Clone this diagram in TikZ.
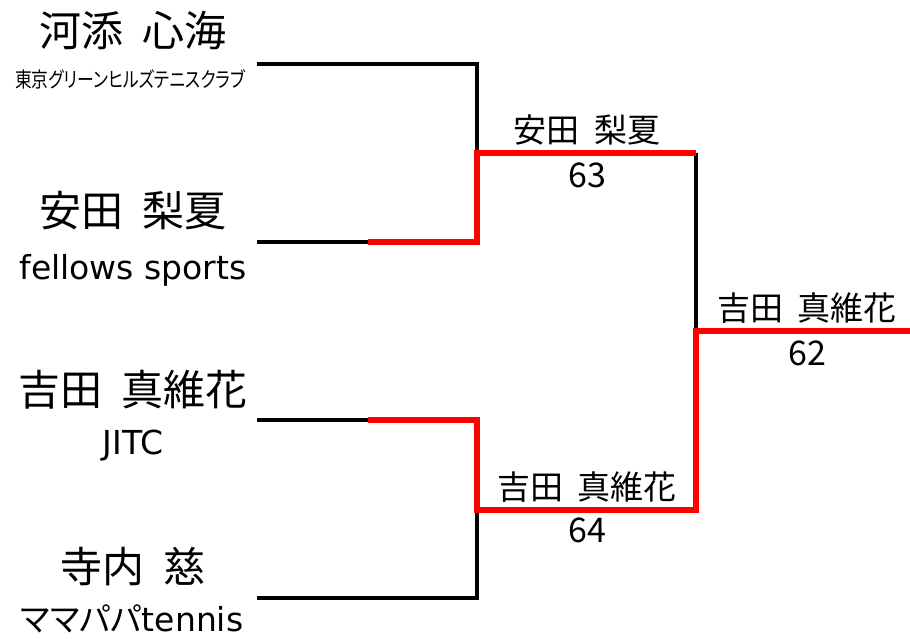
\documentclass[tikz,border=0pt]{standalone}
\usepackage{fontspec}
\setmainfont{Noto Sans CJK JP}
\newfontfamily\clubfont[RawFeature=+palt,FakeStretch=0.8]{Noto Sans CJK JP}
\newfontfamily\latinfont{DejaVu Sans}
\newfontfamily\kanafont[RawFeature=+palt]{Noto Sans CJK JP}
\usetikzlibrary{positioning}
\newcommand\widespace{\spaceskip=0.45em\relax}
\tikzset{name node/.style={font=\fontsize{42}{44}\selectfont\widespace,inner sep=0pt},
  club node/.style={font=\latinfont\fontsize{33}{35}\selectfont,inner sep=0pt},
}

\begin{document}
\begin{tikzpicture}[x=1pt,y=-1pt,line join=miter,
		black line/.style={line width=4pt},
		red line/.style={line width=6.6pt,color=red},
		win node/.style={font=\fontsize{33}{35}\selectfont\widespace,inner sep=0pt},
		score node/.style={font=\fontsize{34}{36}\selectfont,inner sep=0pt}]
		\useasboundingbox (0,0) rectangle (910,639);
		
		% players
		\node[name node] (kawazoe) at (133,31) {河添 心海};
		\node[club node,font=\clubfont\fontsize{21}{23}\selectfont] (kawazoe club) at (130,79) {東京グリーンヒルズテニスクラブ};
		\node[name node] (yasuda) at (133,211) {安田 梨夏};
		\node[club node] (yasuda club) at (133,270) {fellows sports};
		\node[name node] (yoshida) at (133,390) {吉田 真維花};
		\node[club node] (yoshida club) at (133,446) {JITC};
		\node[name node] (terauchi) at (133,567) {寺内 慈};
		\node[club node] (terauchi club) at (132,619) {{\kanafont ママパパ}tennis};
		
		% bracket points
		\coordinate (kawazoe end) at (257,64);
		\coordinate (yasuda end) at (257,242);
		\coordinate (yoshida end) at (257,420);
		\coordinate (terauchi end) at (257,598);
		\coordinate (yasuda win) at (368,242);
		\coordinate (yoshida win) at (368,420);
		\coordinate (semi top) at (477,153);
		\coordinate (semi bottom) at (477,510);
		\coordinate (final) at (696,331);
		\coordinate (champion) at (910,331);
		
		\draw[black line] (kawazoe end) -| (semi top);
		\draw[black line] (yasuda end) -- (yasuda win);
		\draw[black line] (yoshida end) -- (yoshida win);
		\draw[black line] (terauchi end) -| (semi bottom);
		\draw[black line] (semi top -| final) -- (final);
		
		\draw[red line] (yasuda win) -| (semi top) -- (semi top -| final);
		\draw[red line] (yoshida win) -| (semi bottom) -| (final) -- (champion);
		
		% results
		\node[win node] (semi top winner) at (587,130) {安田 梨夏};
		\node[score node] (semi top score) at (587,175) {63};
		\node[win node] (semi bottom winner) at (587,487) {吉田 真維花};
		\node[score node] (semi bottom score) at (587,530) {64};
		\node[win node] (final winner) at (807,308) {吉田 真維花};
		\node[score node] (final score) at (807,353) {62};
\end{tikzpicture}
\end{document}
